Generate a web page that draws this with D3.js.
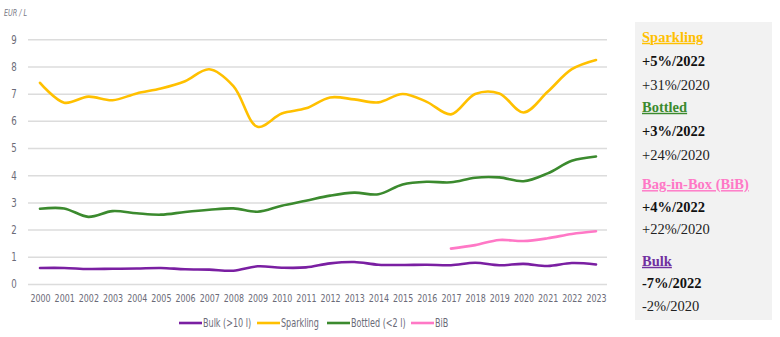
<!DOCTYPE html>
<html>
<head>
<meta charset="utf-8">
<script src="https://cdn.jsdelivr.net/npm/d3@7"></script>
<style>
  body { margin: 0; background: #fff; }
  svg { display: block; }
  .tick text { font-family: "DejaVu Sans Condensed", "DejaVu Sans", sans-serif; font-stretch: condensed; fill: #6b6b78; }
  .panel text { font-family: "Liberation Serif", "DejaVu Serif", serif; font-size: 14.5px; }
</style>
</head>
<body>
<svg id="chart" width="780" height="337"></svg>
<script>
const years = d3.range(2000, 2024);
const bulk = [0.59, 0.59, 0.55, 0.56, 0.57, 0.59, 0.54, 0.53, 0.49, 0.65, 0.60, 0.61,
  0.76, 0.81, 0.71, 0.70, 0.71, 0.69, 0.78, 0.69, 0.74, 0.66, 0.77, 0.72];
const sparkling = [7.40, 6.67, 6.89, 6.76, 7.01, 7.19, 7.46, 7.90, 7.28, 5.78, 6.27, 6.46,
  6.86, 6.79, 6.68, 6.99, 6.70, 6.24, 6.99, 7.01, 6.31, 7.07, 7.90, 8.24];
const bottled = [2.77, 2.78, 2.47, 2.68, 2.60, 2.55, 2.65, 2.73, 2.78, 2.66, 2.88, 3.06,
  3.25, 3.36, 3.30, 3.66, 3.76, 3.74, 3.91, 3.92, 3.78, 4.07, 4.53, 4.69];
// Bag-in-Box is only reported from 2017 on
const bibYears = d3.range(2017, 2024);
const bib = [1.30, 1.43, 1.62, 1.58, 1.68, 1.84, 1.94];
const yTicks = d3.range(0, 10);

const series = [
  { name: "Bulk (>10 l)", color: "#7a1fa2", x: years, y: bulk },
  { name: "Sparkling", color: "#ffc000", x: years, y: sparkling },
  { name: "Bottled (<2 l)", color: "#3b8a2e", x: years, y: bottled },
  { name: "BiB", color: "#ff78c6", x: bibYears, y: bib }
];

// side panel: title, change vs 2022, change vs 2020
const panelTitles = ["Sparkling", "Bottled", "Bag-in-Box (BiB)", "Bulk"];
const panelColors = ["#ffc000", "#3b8a2e", "#ff78c6", "#7030a0"];
const vs2022 = ["+5%/2022", "+3%/2022", "+4%/2022", "-7%/2022"];
const vs2020 = ["+31%/2020", "+24%/2020", "+22%/2020", "-2%/2020"];

const svg = d3.select("#chart");
const narrow = "scale(0.8,1)";

const x = d3.scalePoint().domain(years).range([40, 596]);
const y = d3.scaleLinear().domain([0, 9]).range([284, 39.3]);

// horizontal gridlines + value labels
svg.append("g")
  .attr("transform", "translate(28,0)")
  .call(d3.axisLeft(y).tickValues(yTicks).tickSize(-579).tickPadding(0))
  .call(g => g.select(".domain").remove())
  .call(g => g.selectAll(".tick line").attr("stroke", "#dcdcdc").attr("stroke-width", 1.5))
  .call(g => g.selectAll(".tick text")
    .attr("x", -17.5).attr("text-anchor", "middle")
    .attr("font-size", 12).attr("transform", narrow));

// year labels
svg.append("g")
  .attr("transform", "translate(0,292)")
  .call(d3.axisBottom(x).tickSize(0).tickPadding(2))
  .call(g => g.select(".domain").remove())
  .call(g => g.selectAll(".tick text").attr("font-size", 11).attr("transform", narrow));

svg.append("text")
  .attr("transform", "translate(4,16) scale(0.8,1)")
  .attr("font-family", "'DejaVu Sans Condensed', sans-serif")
  .attr("font-style", "italic")
  .attr("font-size", 9)
  .attr("fill", "#7a7a86")
  .text("EUR / L");

const line = d3.line()
  .x(d => x(d[0]))
  .y(d => y(d[1]))
  .curve(d3.curveCatmullRom.alpha(0.5));

svg.append("g").selectAll("path")
  .data(series)
  .join("path")
  .attr("fill", "none")
  .attr("stroke", d => d.color)
  .attr("stroke-width", 2.6)
  .attr("stroke-linecap", "round")
  .attr("d", d => line(d3.zip(d.x, d.y)));

// legend
const legendX = [179, 257, 327, 411];
const legend = svg.append("g").selectAll("g")
  .data(series)
  .join("g")
  .attr("transform", (d, i) => `translate(${legendX[i]},323)`);
legend.append("line")
  .attr("x1", 0).attr("x2", 23)
  .attr("stroke", d => d.color)
  .attr("stroke-width", 2.6);
legend.append("text")
  .attr("transform", "translate(24,0) scale(0.78,1)")
  .attr("dy", "0.35em")
  .attr("font-family", "'DejaVu Sans Condensed', sans-serif")
  .attr("font-size", 11.5)
  .attr("fill", "#6b6b78")
  .text(d => d.name);

// summary panel
const panel = svg.append("g").attr("class", "panel");
panel.append("rect")
  .attr("x", 635).attr("y", 22)
  .attr("width", 137).attr("height", 298)
  .attr("fill", "#f2f2f2");

const blockY = [36.7, 106.7, 184, 260.7];
const rowGap = [24.3, 24.3, 22.7, 22.7];
panelTitles.forEach((t, i) => {
  const b = panel.append("g").attr("transform", `translate(642,${blockY[i]})`);
  b.append("text")
    .attr("dy", "0.35em")
    .attr("font-weight", "bold")
    .attr("text-decoration", "underline")
    .attr("fill", panelColors[i])
    .text(t);
  b.append("text")
    .attr("y", rowGap[i]).attr("dy", "0.35em")
    .attr("font-weight", "bold")
    .attr("fill", "#111")
    .text(vs2022[i]);
  b.append("text")
    .attr("y", rowGap[i] * 2).attr("dy", "0.35em")
    .attr("fill", "#222")
    .text(vs2020[i]);
});
</script>
</body>
</html>
